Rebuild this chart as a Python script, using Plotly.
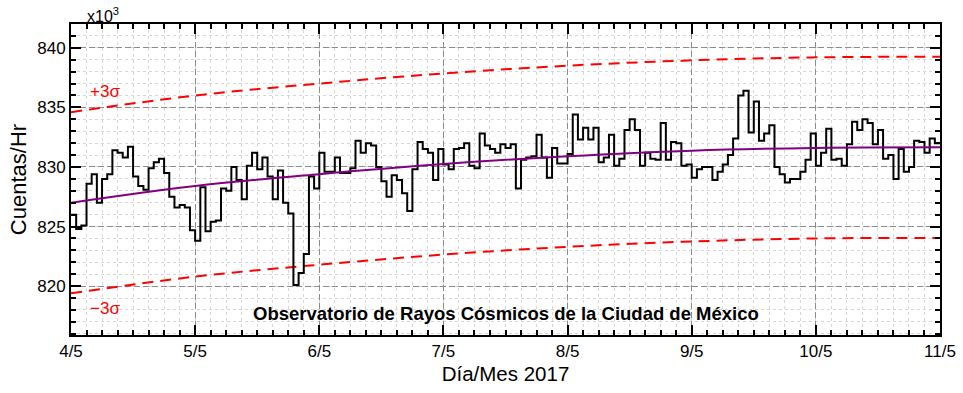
import pandas as pd
import plotly.graph_objects as go

# Hourly counts (x10^3 counts/hr), 4 May 2017 00:00 -> 10 May 2017 23:00
counts = [
    826.0, 824.8, 825.1, 828.6, 829.4, 827.0, 829.0, 829.4, 831.4, 831.2, 830.8, 831.7,
    829.2, 828.4, 828.1, 829.9, 830.4, 830.7, 829.5, 827.5, 826.6, 826.8, 826.6, 824.7,
    823.8, 828.3, 824.6, 825.4, 825.5, 828.2, 828.0, 830.0, 828.9, 827.3, 830.1, 831.2,
    829.8, 830.8, 829.2, 827.3, 829.7, 827.0, 826.1, 820.1, 821.1, 822.7, 829.2, 828.2,
    831.2, 829.6, 829.6, 830.8, 829.5, 829.5, 829.9, 832.2, 831.2, 832.0, 831.8, 830.0,
    828.8, 827.5, 829.3, 828.9, 827.8, 826.3, 829.8, 832.1, 831.5, 831.2, 828.9, 831.5,
    830.2, 829.8, 831.5, 831.6, 832.0, 830.1, 829.9, 832.8, 831.8, 831.5, 831.2, 831.9,
    831.6, 831.9, 828.2, 830.6, 830.8, 830.9, 832.7, 830.8, 829.1, 831.6, 830.3, 830.3,
    831.1, 834.4, 832.3, 833.3, 832.3, 833.3, 830.4, 830.8, 832.7, 830.1, 830.7, 833.1,
    834.0, 833.1, 830.1, 831.2, 830.7, 830.6, 833.7, 830.6, 832.1, 832.0, 830.1, 830.2,
    829.1, 829.8, 830.0, 830.0, 828.9, 829.6, 830.2, 831.0, 832.4, 836.0, 836.4, 832.9,
    835.5, 832.2, 832.8, 833.5, 830.0, 829.4, 828.7, 829.0, 829.0, 829.6, 830.6, 832.8,
    830.1, 831.2, 833.2, 830.6, 830.7, 830.1, 831.9, 833.8, 833.1, 834.0, 833.7, 831.9,
    833.1, 830.7, 831.0, 829.0, 831.5, 829.6, 830.0, 832.2, 832.1, 831.2, 832.4, 832.0,
]

# Daily values of the fitted trend and the +/-3 sigma bands (x10^3 counts/hr)
trend = [827.0, 828.4, 829.4, 830.25, 830.9, 831.37, 831.6, 831.65]
upper = [834.6, 836.0, 837.0, 837.85, 838.5, 838.95, 839.2, 839.25]
lower = [819.4, 820.8, 821.8, 822.65, 823.3, 823.75, 824.0, 824.05]

tick_labels = ["4/5", "5/5", "6/5", "7/5", "8/5", "9/5", "10/5", "11/5"]
y_ticks = [820, 825, 830, 835, 840]

start = pd.Timestamp("2017-05-04")
hours = pd.date_range(start, periods=len(counts), freq="h")
days = pd.date_range(start, periods=len(tick_labels), freq="D")

step_x = list(hours) + [days[-1]]
step_y = counts + [counts[-1]]

fig = go.Figure()
fig.add_trace(go.Scatter(x=days, y=upper, mode="lines", line=dict(color="#ff0000", width=2, dash="11px,7px", shape="spline"), hoverinfo="skip"))
fig.add_trace(go.Scatter(x=days, y=lower, mode="lines", line=dict(color="#ff0000", width=2, dash="11px,7px", shape="spline"), hoverinfo="skip"))
fig.add_trace(go.Scatter(x=step_x, y=step_y, mode="lines", line=dict(color="black", width=2, shape="hv")))
fig.add_trace(go.Scatter(x=days, y=trend, mode="lines", line=dict(color="#800080", width=2, shape="spline")))

font = "Liberation Sans, Arial, sans-serif"
axis_common = dict(
    showline=True, linecolor="black", linewidth=2, mirror="allticks",
    ticks="inside", ticklen=10, tickwidth=1.5, tickcolor="black",
    showgrid=True, gridcolor="#8c8c8c", gridwidth=1, griddash="6px,3px",
    zeroline=False, automargin=False,
    tickfont=dict(family=font, size=17, color="black"),
)

fig.update_xaxes(
    type="date", range=[days[0], days[-1]],
    tickmode="array", tickvals=days, ticktext=tick_labels,
    minor=dict(tick0=start, dtick=3 * 3600 * 1000, ticks="inside", ticklen=5, tickcolor="black",
               showgrid=True, gridcolor="#d6d6d6", griddash="3px,3px", gridwidth=1),
    title=dict(text="Día/Mes 2017", font=dict(family=font, size=20.5, color="black"), standoff=6),
    **axis_common,
)
fig.update_yaxes(
    range=[815.9, 842.0], tickmode="array", tickvals=y_ticks,
    minor=dict(tick0=0, dtick=1, ticks="inside", ticklen=5, tickcolor="black",
               showgrid=True, gridcolor="#d6d6d6", griddash="3px,3px", gridwidth=1),
    title=dict(text="Cuentas/Hr", font=dict(family=font, size=22, color="black"), standoff=5),
    **axis_common,
)

fig.add_annotation(x=0.5, y=0.07, xref="paper", yref="paper", xanchor="center", yanchor="middle",
                   showarrow=False,
                   text="<b>Observatorio de Rayos Cósmicos de la Ciudad de México</b>",
                   font=dict(family=font, size=18.5, color="black"))
fig.add_annotation(x=start + pd.Timedelta(hours=6.5), y=836.3, showarrow=False, text="+3σ",
                   font=dict(family=font, size=17, color="#ff0000"))
fig.add_annotation(x=start + pd.Timedelta(hours=6.5), y=818.1, showarrow=False, text="−3σ",
                   font=dict(family=font, size=17, color="#ff0000"))
fig.add_annotation(x=0.0, y=1.0, xref="paper", yref="paper", xanchor="left", yanchor="bottom",
                   xshift=14, yshift=-3, showarrow=False, text="x10<sup>3</sup>",
                   font=dict(family=font, size=16, color="black"))

# The figure fills the whole 963x393 window; the page's default body margin is removed after drawing.
fig.update_layout(
    width=963, height=393, autosize=False,
    margin=dict(l=70.5, r=22.5, t=24, b=58),
    plot_bgcolor="white", paper_bgcolor="white",
    showlegend=False, font=dict(family=font, color="black"),
)

fig.write_html("out.html", config={"displayModeBar": False},
               post_script="document.body.style.margin='0';")
